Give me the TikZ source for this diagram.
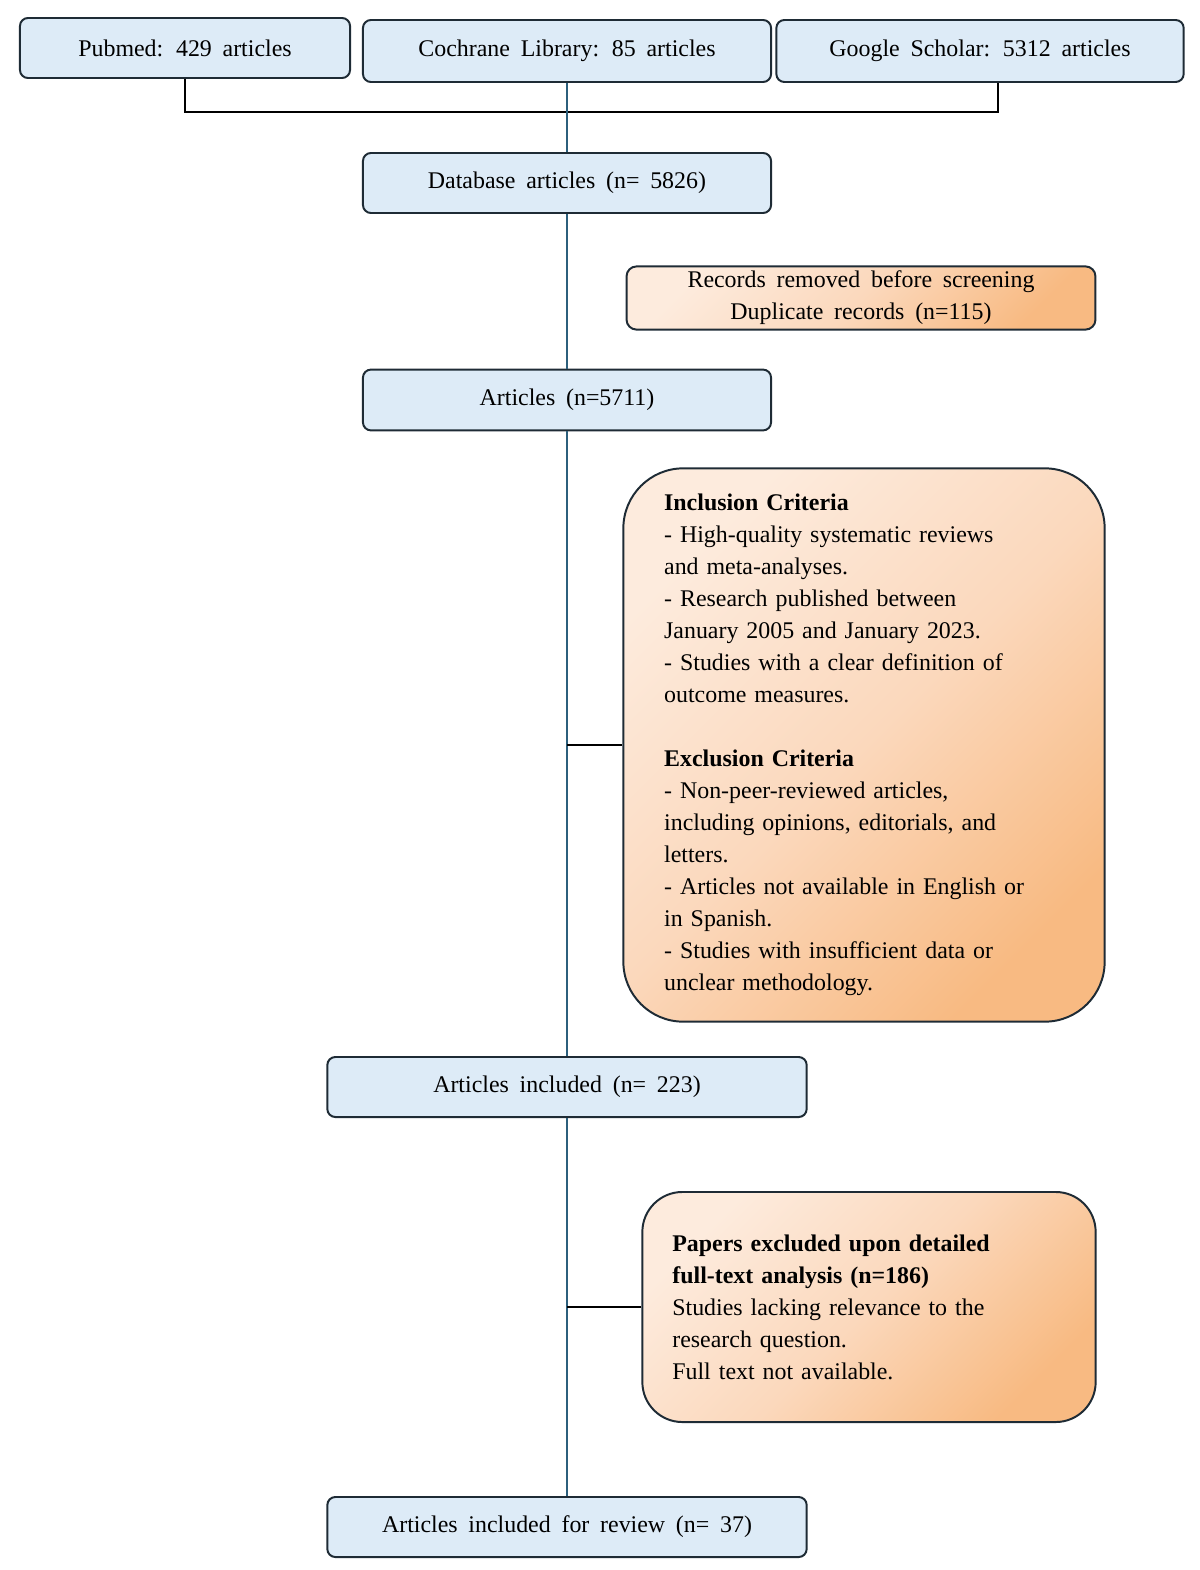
\documentclass[tikz,border=0pt]{standalone}
\usepackage{fontspec}
\setmainfont[WordSpace=1.8]{Liberation Serif}
\usetikzlibrary{positioning}

\definecolor{boxfill}{HTML}{DDEBF7}
\definecolor{boxline}{HTML}{1E2B35}
\definecolor{flowline}{HTML}{2C5F7C}
\definecolor{orlight}{HTML}{FDEBDD}
\definecolor{ormid}{HTML}{FBD8BC}
\definecolor{ordark}{HTML}{F8BA82}

\begin{document}
\begin{tikzpicture}[x=0.025cm,y=-0.025cm,
	font=\fontsize{17}{22.76}\selectfont,
	dbbox/.style={rectangle,rounded corners=0.2cm,draw=boxline,line width=1.4pt,fill=boxfill,inner sep=0pt,minimum height=1.5cm},
	notebox/.style={rectangle,draw=boxline,line width=1.4pt,inner sep=0pt,top color=orlight,bottom color=ordark,middle color=ormid,shading angle=45},
	flow/.style={draw=flowline,line width=1.4pt},
	bar/.style={draw=black,line width=1.4pt}]

	\useasboundingbox (0,0) rectangle (1200,1570);

	\node (pub)	at	(185,48) [dbbox,minimum width=8.25cm] {Pubmed: 429 articles};
	\node (coch)	at	(567,51) [dbbox,minimum width=10.2cm,minimum height=1.55cm] {Cochrane Library: 85 articles};
	\node (goo)	at	(980,51) [dbbox,minimum width=10.18cm,minimum height=1.55cm] {Google Scholar: 5312 articles};
	\coordinate (j)	at	(567,112);

	\node (db)	at	(567,183) [dbbox,minimum width=10.2cm] {Database articles (n= 5826)};
	\node (dup)	at	(861,298) [notebox,rounded corners=0.25cm,minimum width=11.72cm,minimum height=1.58cm,align=center] {Records removed before screening\\Duplicate records (n=115)};
	\node (art)	at	(567,400) [dbbox,minimum width=10.2cm,minimum height=1.52cm] {Articles (n=5711)};

	\node (crit)	at	(864,745) [notebox,rounded corners=1.5cm,minimum width=12.03cm,minimum height=13.83cm,text width=9.99cm,align=left]
		{\textbf{Inclusion Criteria}\\
		- High-quality systematic reviews\\
		and meta-analyses.\\
		- Research published between\\
		January 2005 and January 2023.\\
		- Studies with a clear definition of\\
		outcome measures.\\[0.8cm]
		\textbf{Exclusion Criteria}\\
		- Non-peer-reviewed articles,\\
		including opinions, editorials, and\\
		letters.\\
		- Articles not available in English or\\
		in Spanish.\\
		- Studies with insufficient data or\\
		unclear methodology.};

	\node (inc)	at	(567,1087) [dbbox,minimum width=11.98cm] {Articles included (n= 223)};
	\node (excl)	at	(869,1307) [notebox,rounded corners=1cm,minimum width=11.33cm,minimum height=5.75cm,text width=9.83cm,align=left]
		{\textbf{Papers excluded upon detailed}\\
		\textbf{full-text analysis (n=186)}\\
		Studies lacking relevance to the\\
		research question.\\
		Full text not available.};
	\node (rev)	at	(567,1527) [dbbox,minimum width=11.98cm] {Articles included for review (n= 37)};

	\draw[bar] (pub.south) |- (j) -| ([xshift=0.45cm]goo.south);
	\draw[flow] (coch) -- (db);
	\draw[flow] (db) -- (art);
	\draw[flow] (art) -- (inc);
	\draw[flow] (inc) -- (rev);
	\draw[bar] (crit.west) -- (crit.west -| art);
	\draw[bar] (excl.west) -- (excl.west -| inc);

\end{tikzpicture}
\end{document}
